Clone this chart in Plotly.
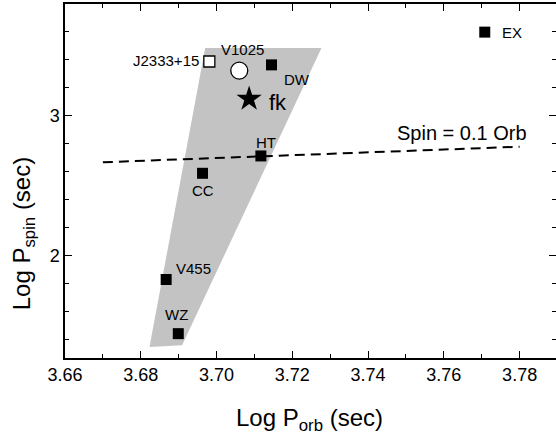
import plotly.graph_objects as go

# ---- data ----
sq_names = ["EX", "DW", "HT", "CC", "V455", "WZ"]
sq_x = [3.7708, 3.7145, 3.7117, 3.6963, 3.6867, 3.6899]
sq_y = [3.599, 3.365, 2.714, 2.590, 1.831, 1.444]

open_sq_name = ["J2333+15"]
open_sq_x = [3.6981]
open_sq_y = [3.389]

circ_name = ["V1025"]
circ_x = [3.7060]
circ_y = [3.324]

star_name = ["fk"]
star_x = [3.7086]
star_y = [3.122]

region_x = [3.6970, 3.7277, 3.6909, 3.6823, 3.6970]
region_y = [3.485, 3.485, 1.361, 1.349, 3.485]

ratio_x = [3.67, 3.78]
ratio_y = [2.669, 2.780]
ratio_label = "Spin = 0.1 Orb"

label_text = ["EX", "J2333+15", "V1025", "DW", "HT", "CC", "V455", "WZ"]
label_x = [3.7748, 3.6960, 3.7069, 3.7173, 3.7130, 3.6963, 3.6889, 3.6895]
label_y = [3.594, 3.396, 3.472, 3.263, 2.809, 2.470, 1.910, 1.583]
label_anchor = ["left", "right", "center", "left", "center", "center", "left", "center"]

x_range = [3.66, 3.7896]
y_range = [1.27, 3.80]

FONT = "Arial, Liberation Sans, sans-serif"

fig = go.Figure()

fig.add_trace(go.Scatter(x=region_x, y=region_y, mode="lines", fill="toself",
                         fillcolor="#c3c3c3", line=dict(width=0), hoverinfo="skip"))
fig.add_trace(go.Scatter(x=ratio_x, y=ratio_y, mode="lines",
                         line=dict(color="black", width=2, dash="10px,6px")))
fig.add_trace(go.Scatter(x=sq_x, y=sq_y, mode="markers",
                         marker=dict(symbol="square", size=11, color="black")))
fig.add_trace(go.Scatter(x=open_sq_x, y=open_sq_y, mode="markers",
                         marker=dict(symbol="square", size=11, color="white",
                                     line=dict(color="black", width=1.3))))
fig.add_trace(go.Scatter(x=circ_x, y=circ_y, mode="markers",
                         marker=dict(symbol="circle", size=17, color="white",
                                     line=dict(color="black", width=1.3))))
fig.add_trace(go.Scatter(x=star_x, y=star_y, mode="markers",
                         marker=dict(symbol="star", size=19, color="black")))

for t, x, y, a in zip(label_text, label_x, label_y, label_anchor):
    fig.add_annotation(x=x, y=y, text=t, showarrow=False, xanchor=a, yanchor="middle",
                       font=dict(family=FONT, size=15, color="black"))

fig.add_annotation(x=3.7133, y=3.093, text=star_name[0], showarrow=False, xanchor="left",
                   yanchor="middle", font=dict(family=FONT, size=22, color="black"))
fig.add_annotation(x=3.7648, y=2.876, text=ratio_label, showarrow=False, xanchor="center",
                   yanchor="middle", font=dict(family=FONT, size=20, color="black"))

# axis titles (placed in pixel-matched paper coordinates)
fig.add_annotation(xref="paper", yref="paper", x=0.497, y=-0.175,
                   text="Log P<sub>orb</sub> (sec)", showarrow=False,
                   xanchor="center", yanchor="middle",
                   font=dict(family=FONT, size=24, color="black"))
fig.add_annotation(xref="paper", yref="paper", x=-0.085, y=0.353,
                   text="Log P<sub>spin</sub> (sec)", showarrow=False, textangle=-90,
                   xanchor="center", yanchor="middle",
                   font=dict(family=FONT, size=24, color="black"))

axis_common = dict(showgrid=False, zeroline=False, showline=True, linecolor="black",
                   linewidth=1.5, ticks="inside", tickcolor="black", tickwidth=1.2,
                   mirror="allticks",
                   tickfont=dict(family=FONT, size=18, color="black"))

fig.update_xaxes(range=x_range, tick0=3.66, dtick=0.02, tickformat=".2f", ticklen=7,
                 minor=dict(dtick=0.01, tick0=3.66, ticks="inside", ticklen=4,
                            tickcolor="black", tickwidth=1.2),
                 **axis_common)
fig.update_yaxes(range=y_range, tick0=0, dtick=1, ticklen=7,
                 minor=dict(dtick=0.2, tick0=0, ticks="inside", ticklen=4,
                            tickcolor="black", tickwidth=1.2),
                 **axis_common)

fig.update_layout(width=558, height=443, showlegend=False,
                  plot_bgcolor="white", paper_bgcolor="white",
                  margin=dict(l=65, r=0, t=4, b=85),
                  font=dict(family=FONT, color="black"))

fig.write_html("out.html", config={"displayModeBar": False},
               post_script="document.body.style.margin='0';document.body.style.overflow='hidden';")
